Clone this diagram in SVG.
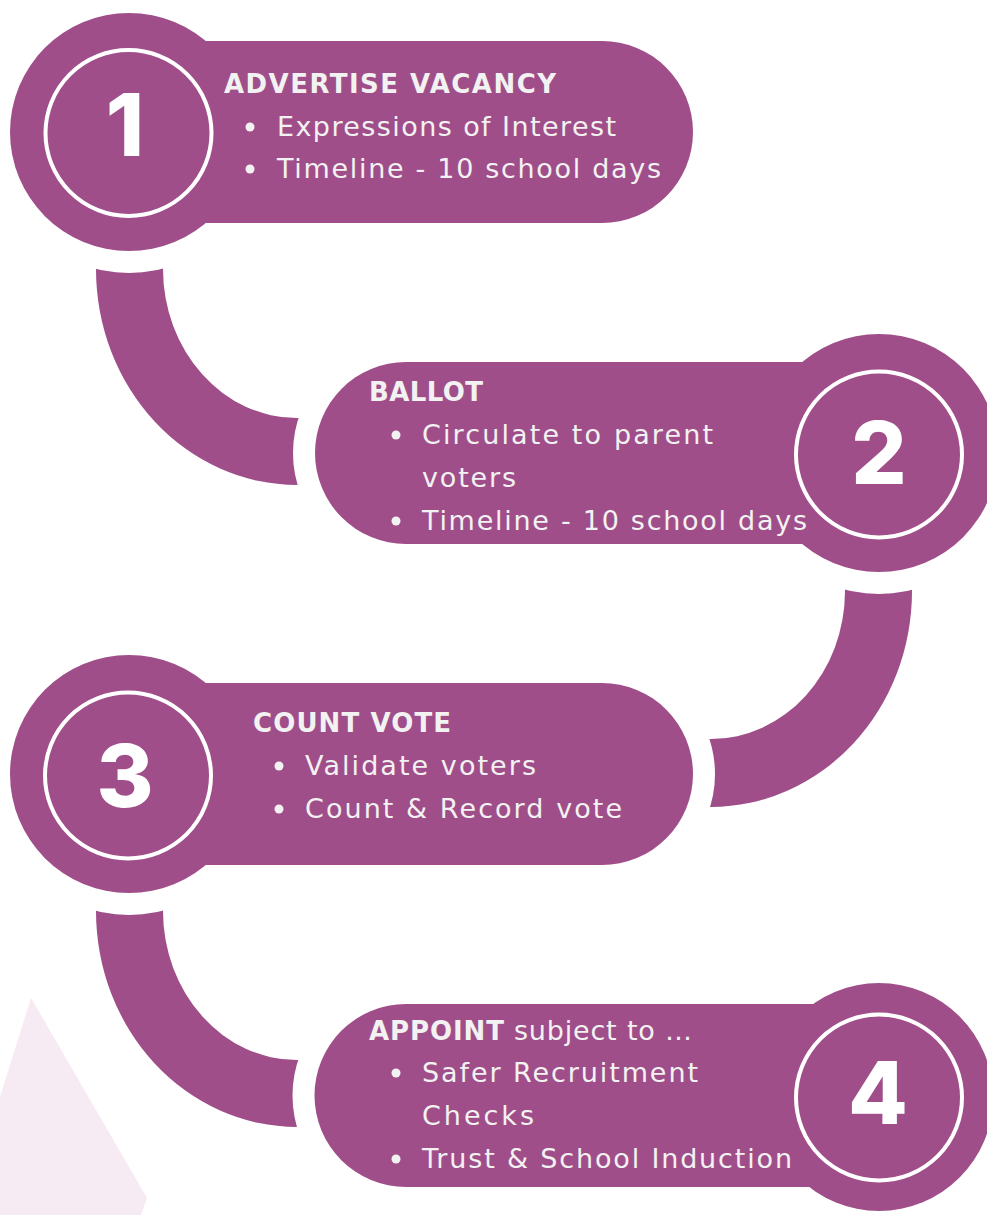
<svg xmlns="http://www.w3.org/2000/svg" width="987" height="1215" viewBox="0 0 987 1215">
<style>
.bg{fill:#ffffff}
.fill{fill:#a04e89}
.halo{fill:#ffffff;stroke:#ffffff;stroke-width:44}
.ring{fill:none;stroke:#ffffff;stroke-width:4}
.num{font-family:Inter,"Liberation Sans",sans-serif;font-weight:800;font-size:87px;fill:#ffffff;text-anchor:middle}
.head{font-family:"DejaVu Sans",Inter,sans-serif;font-weight:700;font-size:26px;fill:#f2f2f2}
.body{font-family:"DejaVu Sans",Inter,sans-serif;font-weight:400;font-size:27px;fill:#f2f2f2}
.dot{fill:#f2f2f2}
</style>
<rect class="bg" x="0" y="0" width="987" height="1215"/>
<polygon points="31,998 147,1198 141,1215 0,1215 0,1097" fill="#f6eaf3"/>
<g id="connectors" class="fill">
<path d="M 96 240 L 96 269 A 201 216 0 0 0 297 485 L 320 485 L 320 418 L 297 418 A 134 149 0 0 1 163 269 L 163 240 Z"/>
<path d="M 912 560 L 912 591 A 201 216 0 0 1 711 807 L 690 807 L 690 739 L 711 739 A 134 148 0 0 0 845 591 L 845 560 Z"/>
<path d="M 96 880 L 96 911 A 201 216 0 0 0 297 1127 L 320 1127 L 320 1060 L 297 1060 A 134 149 0 0 1 163 911 L 163 880 Z"/>
</g>
<g id="node1">
<circle class="halo" cx="129" cy="132" r="119"/>
<path class="halo" d="M 130 41 H 602 A 91 91 0 0 1 602 223 H 130 Z"/>
<circle class="fill" cx="129" cy="132" r="119"/>
<path class="fill" d="M 130 41 H 602 A 91 91 0 0 1 602 223 H 130 Z"/>
<circle class="ring" cx="128.5" cy="133" r="83"/>
<text class="num" x="125" y="156">1</text>
<text class="head" x="224" y="93" textLength="332">ADVERTISE VACANCY</text>
<circle class="dot" cx="250" cy="127" r="4.5"/>
<text class="body" x="277" y="136" textLength="339">Expressions of Interest</text>
<circle class="dot" cx="250" cy="169" r="4.5"/>
<text class="body" x="277" y="178" textLength="384">Timeline - 10 school days</text>
</g>
<g id="node2">
<circle class="halo" cx="879" cy="453" r="119"/>
<path class="halo" d="M 406 362 H 880 V 544 H 406 A 91 91 0 0 1 406 362 Z"/>
<circle class="fill" cx="879" cy="453" r="119"/>
<path class="fill" d="M 406 362 H 880 V 544 H 406 A 91 91 0 0 1 406 362 Z"/>
<circle class="ring" cx="879" cy="454.5" r="83"/>
<text class="num" x="879" y="484">2</text>
<text class="head" x="369" y="401" textLength="114">BALLOT</text>
<circle class="dot" cx="396" cy="435" r="4.5"/>
<text class="body" x="422" y="444" textLength="291">Circulate to parent</text>
<text class="body" x="422" y="487" textLength="94">voters</text>
<circle class="dot" cx="396" cy="521" r="4.5"/>
<text class="body" x="422" y="530" textLength="385">Timeline - 10 school days</text>
</g>
<g id="node3">
<circle class="halo" cx="129" cy="774" r="119"/>
<path class="halo" d="M 130 683 H 602 A 91 91 0 0 1 602 865 H 130 Z"/>
<circle class="fill" cx="129" cy="774" r="119"/>
<path class="fill" d="M 130 683 H 602 A 91 91 0 0 1 602 865 H 130 Z"/>
<circle class="ring" cx="128" cy="775.5" r="83"/>
<text class="num" x="125" y="807">3</text>
<text class="head" x="253" y="732" textLength="198">COUNT VOTE</text>
<circle class="dot" cx="279" cy="766" r="4.5"/>
<text class="body" x="305" y="775" textLength="231">Validate voters</text>
<circle class="dot" cx="279" cy="809" r="4.5"/>
<text class="body" x="305" y="818" textLength="317">Count &amp; Record vote</text>
</g>
<g id="node4">
<circle class="halo" cx="879" cy="1097" r="114"/>
<path class="halo" d="M 406 1004 H 880 V 1187 H 406 A 91.5 91.5 0 0 1 406 1004 Z"/>
<circle class="fill" cx="879" cy="1097" r="114"/>
<path class="fill" d="M 406 1004 H 880 V 1187 H 406 A 91.5 91.5 0 0 1 406 1004 Z"/>
<circle class="ring" cx="879" cy="1097.5" r="83"/>
<text class="num" x="878" y="1124">4</text>
<text class="head" x="369" y="1040" textLength="135">APPOINT</text>
<text class="body" x="514" y="1040" textLength="178">subject to …</text>
<circle class="dot" cx="396" cy="1073" r="4.5"/>
<text class="body" x="422" y="1082" textLength="276">Safer Recruitment</text>
<text class="body" x="422" y="1125" textLength="112">Checks</text>
<circle class="dot" cx="396" cy="1159" r="4.5"/>
<text class="body" x="422" y="1168" textLength="370">Trust &amp; School Induction</text>
</g>
</svg>
